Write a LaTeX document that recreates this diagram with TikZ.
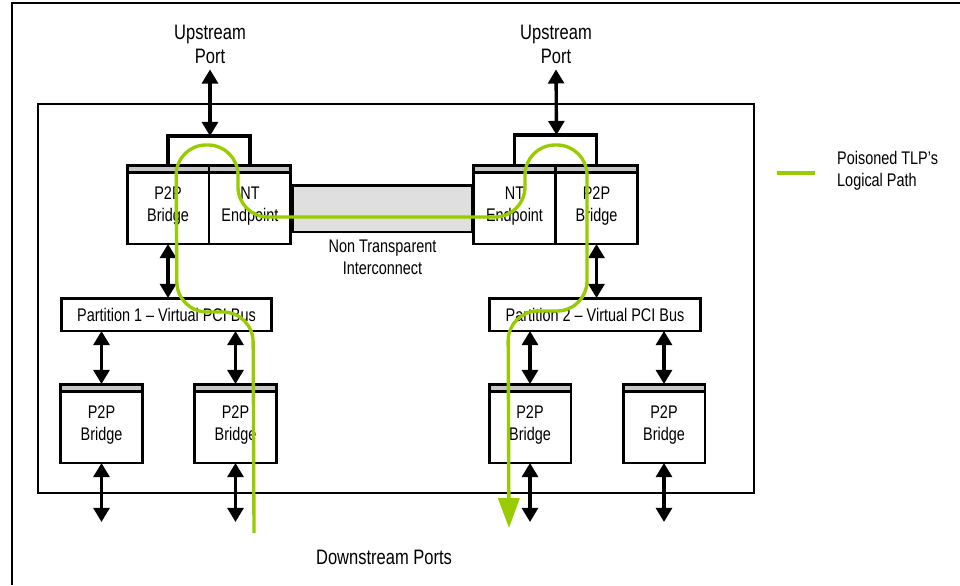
\documentclass[tikz,border=0pt]{standalone}
\usepackage{fontspec}
\setmainfont{Liberation Sans}[FakeStretch=0.79]
\usepackage{xcolor}
\usetikzlibrary{arrows.meta, positioning}
\definecolor{tlpgreen}{RGB}{153,204,0}
\newcommand{\boxfont}{\fontsize{10.4pt}{12.5pt}\selectfont}
\newcommand{\portfont}{\fontsize{11.9pt}{13.6pt}\selectfont}

\begin{document}
\begin{tikzpicture}[
    x=0.02cm, y=-0.02cm,
    box/.style={draw, line width=1.7pt, fill=white, outer sep=0pt,
                minimum width=1.64cm, minimum height=1.58cm, align=center, font=\boxfont},
    bridge/.style={box, text depth=-0.1cm, path picture={
        \fill[gray!45] (path picture bounding box.north west) rectangle ([yshift=-0.15cm]path picture bounding box.north east);
        \draw[line width=1.7pt] ([yshift=-0.15cm]path picture bounding box.north west) -- ([yshift=-0.15cm]path picture bounding box.north east);}},
    bus/.style={box, minimum width=4.22cm, minimum height=0.66cm},
    link/.style={{Triangle[width=9pt,length=8pt]}-{Triangle[width=9pt,length=8pt]}, line width=1.9pt},
    portlabel/.style={font=\portfont, align=center},
    boxtext/.style={font=\boxfont, align=center},
    tlp/.style={draw=tlpgreen, line width=1.9pt, rounded corners=0.6cm}
]
    \useasboundingbox (0,0) rectangle (960,585);

    % Frame
    \draw[line width=1.7pt] (12,585) -- (12,3) -- (960,3);

    % Switch
    \node[draw, line width=1.4pt, minimum width=14.32cm, minimum height=7.78cm] (switch) at (396,298.5) {};

    % Upstream ports
    \node[portlabel] (upL) at (210,44) {Upstream\\Port};
    \node[portlabel] (upR) at (556,44) {Upstream\\Port};

    % Partition 1 bridges
    \node[bridge] (p2pL) at (168,204.5) {P2P\\Bridge};
    \node[bridge, right=0pt of p2pL] (ntL) {NT\\Endpoint};

    % Partition 2 bridges
    \node[bridge] (p2pR) at (596.5,204.5) {P2P\\Bridge};
    \node[bridge, left=0pt of p2pR] (ntR) {NT\\Endpoint};

    % Interconnect
    \node[draw, line width=1.7pt, fill=gray!25, outer sep=0pt, minimum width=3.62cm, minimum height=0.94cm] (ntb) at (382.5,208.5) {};
    \node[boxtext, below=1pt of ntb] (ntbtext) {Non Transparent\\Interconnect};

    % Brackets
    \coordinate (brL) at (210,136);
    \coordinate (brR) at (556.5,135);
    \draw[line width=1.9pt] (p2pL.north) |- (brL) -| (ntL.north);
    \draw[line width=1.9pt] (ntR.north) |- (brR) -| (p2pR.north);
    \draw[link] (upL.south) -- (brL);
    \draw[link] (upR.south) -- (brR);

    % Virtual buses
    \node[bus] (busL) at (166.5,314.5) {Partition 1 -- Virtual PCI Bus};
    \node[bus] (busR) at (595,314.5) {Partition 2 -- Virtual PCI Bus};
    \draw[link] (p2pL.south) -- (p2pL.south |- busL.north);
    \draw[link] (p2pR.south) -- (p2pR.south |- busR.north);

    % Downstream bridges
    \node[bridge] (dsA) at (101.5,423.5) {P2P\\Bridge};
    \node[bridge] (dsB) at (235.5,423.5) {P2P\\Bridge};
    \node[bridge] (dsC) at (530,423.5) {P2P\\Bridge};
    \node[bridge] (dsD) at (664,423.5) {P2P\\Bridge};
    \draw[link] (busL.south -| dsA.north) -- (dsA.north);
    \draw[link] (busL.south -| dsB.north) -- (dsB.north);
    \draw[link] (busR.south -| dsC.north) -- (dsC.north);
    \draw[link] (busR.south -| dsD.north) -- (dsD.north);

    % Downstream ports
    \coordinate[below=1.18cm of dsA.south] (portA);
    \coordinate[below=1.18cm of dsB.south] (portB);
    \coordinate[below=1.18cm of dsC.south] (portC);
    \coordinate[below=1.18cm of dsD.south] (portD);
    \draw[link] (dsA.south) -- (portA);
    \draw[link] (dsB.south) -- (portB);
    \draw[link] (dsC.south) -- (portC);
    \draw[link] (dsD.south) -- (portD);
    \node[portlabel] (dsports) at (384,557) {Downstream Ports};

    % Poisoned TLP path
    \draw[tlp, -{Triangle[width=12pt,length=17pt]}] (254,533) -- (253,312) -- (177,312) -- (176,145)
        -- (238,145) -- (238,217) -- (525,217) -- (525,145) -- (587,145) -- (587,311) -- (508,311) -- (509,528);

    % Legend
    \coordinate (legA) at (777,173);
    \coordinate (legB) at (815,173);
    \draw[tlp] (legA) -- (legB);
    \node[boxtext, align=left, anchor=west] (legend) at (831,171) {Poisoned TLP’s\\Logical Path};
\end{tikzpicture}
\end{document}
